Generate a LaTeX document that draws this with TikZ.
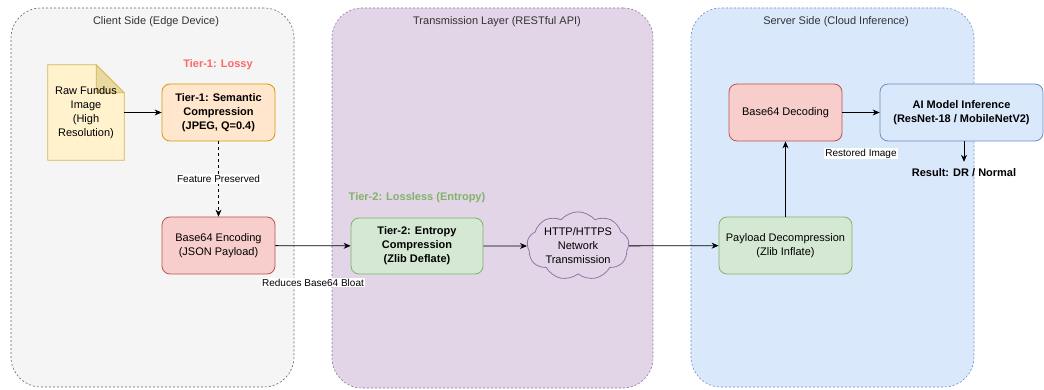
\documentclass[tikz,border=0pt]{standalone}
\usepackage{fontspec}
\setmainfont{Liberation Sans}
\usetikzlibrary{arrows.meta,shapes.symbols}
\definecolor{cliF}{HTML}{F5F5F5}\definecolor{cliS}{HTML}{666666}
\definecolor{trF}{HTML}{E1D5E7}\definecolor{trS}{HTML}{9673A6}
\definecolor{svF}{HTML}{DAE8FC}\definecolor{svS}{HTML}{6C8EBF}
\definecolor{orF}{HTML}{FFE6CC}\definecolor{orS}{HTML}{D79B00}
\definecolor{rdF}{HTML}{F8CECC}\definecolor{rdS}{HTML}{B85450}
\definecolor{grF}{HTML}{D5E8D4}\definecolor{grS}{HTML}{82B366}
\definecolor{ylF}{HTML}{FFF2CC}\definecolor{ylS}{HTML}{D6B656}
\definecolor{ylD}{HTML}{E8D9A0}
\definecolor{tier1}{HTML}{FF6666}\definecolor{tier2}{HTML}{82B366}
\definecolor{ttl}{HTML}{333333}
\tikzset{
  container/.style={rounded corners=30pt, dashed, dash pattern=on 2pt off 2pt, line width=0.6pt},
  ctitle/.style={text=ttl, font=\fontsize{11}{13}\selectfont},
  proc/.style={rounded corners=8pt, line width=0.8pt, align=center, font=\fontsize{11}{14}\selectfont, inner sep=0pt},
  bproc/.style={proc, font=\fontsize{11}{14}\selectfont\bfseries},
  arr/.style={-{Stealth[length=7pt,width=6pt]}, line width=0.8pt},
  elabel/.style={fill=white, inner sep=1pt, font=\fontsize{10}{12}\selectfont},
}
\begin{document}
\begin{tikzpicture}[x=1pt,y=-1pt]
\useasboundingbox (0,0) rectangle (1044,390);
% containers
\node[container, draw=cliS, fill=cliF, minimum width=283pt, minimum height=379pt] (client) at (152.5,197.5) {};
\node[container, draw=trS, fill=trF, minimum width=321pt, minimum height=380pt] (trans) at (492.5,198) {};
\node[container, draw=svS, fill=svF, minimum width=283pt, minimum height=379pt] (server) at (832.5,197.5) {};
\node[ctitle] (clientT) at (156,22) {Client Side (Edge Device)};
\node[ctitle] (transT) at (497,22) {Transmission Layer (RESTful API)};
\node[ctitle] (serverT) at (836,22) {Server Side (Cloud Inference)};
% raw image document
\node[minimum width=76pt, minimum height=95pt, inner sep=0pt] (raw) at (86,112.5) {};
\fill[ylF, draw=ylS, line width=0.8pt] (raw.north west) -- ([xshift=-28pt]raw.north east) -- ([yshift=-28pt]raw.north east) -- (raw.south east) -- (raw.south west) -- cycle;
\fill[ylD, draw=ylS, line width=0.6pt] ([xshift=-28pt]raw.north east) -- ([xshift=-28pt,yshift=-28pt]raw.north east) -- ([yshift=-28pt]raw.north east) -- cycle;
\node[align=center, font=\fontsize{11}{14}\selectfont] (rawT) at (86,113) {Raw Fundus\\Image\\(High\\Resolution)};
% tier labels
\node[text=tier1, font=\fontsize{11}{13}\selectfont\bfseries] (t1lab) at (218,65) {Tier-1: Lossy};
\node[text=tier2, font=\fontsize{11}{13}\selectfont\bfseries] (t2lab) at (417,198) {Tier-2: Lossless (Entropy)};
% process boxes
\node[bproc, draw=orS, fill=orF, minimum width=113pt, minimum height=57pt] (t1) at (218.5,112.5) {Tier-1: Semantic\\Compression\\(JPEG, Q=0.4)};
\node[proc, draw=rdS, fill=rdF, minimum width=113pt, minimum height=57pt] (b64e) at (218.5,245.5) {Base64 Encoding\\(JSON Payload)};
\node[bproc, draw=grS, fill=grF, minimum width=132pt, minimum height=56pt] (t2) at (417,246) {Tier-2: Entropy\\Compression\\(Zlib Deflate)};
\node[cloud, cloud puffs=9, cloud puff arc=100, aspect=1.7, draw=trS, fill=trF, line width=0.8pt, minimum width=102pt, minimum height=64pt, inner sep=0pt, align=center, font=\fontsize{11}{14}\selectfont] (net) at (578,246) {HTTP/HTTPS\\Network\\Transmission};
\node[proc, draw=grS, fill=grF, minimum width=133pt, minimum height=57pt] (dec) at (785.5,245.5) {Payload Decompression\\(Zlib Inflate)};
\node[proc, draw=rdS, fill=rdF, minimum width=113pt, minimum height=57pt] (b64d) at (785.5,112.5) {Base64 Decoding};
\node[bproc, draw=svS, fill=svF, minimum width=163pt, minimum height=57pt] (ai) at (961.5,112.5) {AI Model Inference\\(ResNet-18 / MobileNetV2)};
\node[font=\fontsize{11}{13}\selectfont\bfseries, inner sep=0pt, minimum height=22pt] (res) at (964,173) {Result: DR / Normal};
% connectors
\draw[arr] (raw.east) -- (t1.west);
\draw[arr, dashed, dash pattern=on 3pt off 3pt] (t1) -- node[elabel, solid] {Feature Preserved} (b64e);
\draw[arr] (b64e) -- node[elabel, yshift=-37pt] {Reduces Base64 Bloat} (t2);
\draw[arr] (t2) -- (net);
\draw[arr] (net) -- (dec);
\draw[arr] (dec) -- (b64d);
\draw[arr] (b64d) -- node[elabel, yshift=-41pt] {Restored Image} (ai);
\draw[arr] (res.north |- ai.south) -- (res.north);
\end{tikzpicture}
\end{document}
